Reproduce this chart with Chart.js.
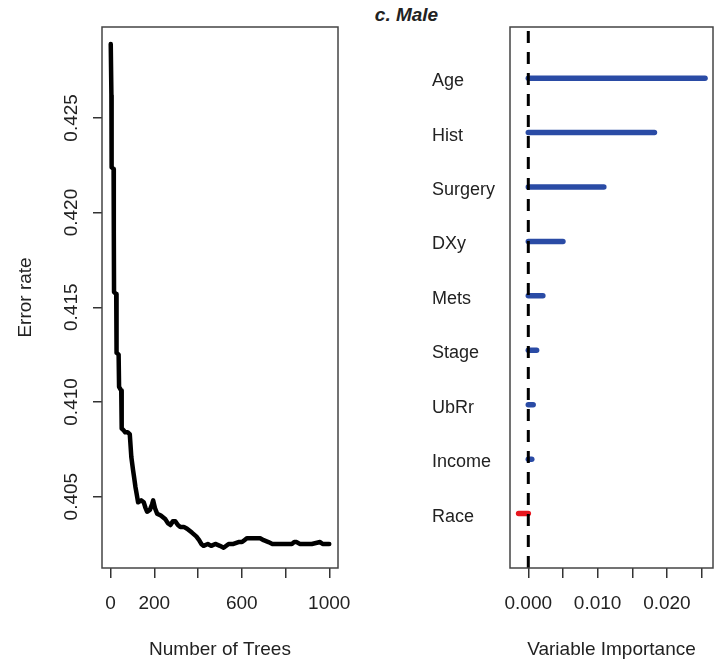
<!DOCTYPE html>
<html>
<head>
<meta charset="utf-8">
<script src="https://cdn.jsdelivr.net/npm/chart.js@4.4.1/dist/chart.umd.min.js"></script>
<style>
  body { margin: 0; background: #fff; width: 720px; height: 662px; position: relative; overflow: hidden; }
  #title { position: absolute; left: 300px; width: 213px; top: 4px; line-height: 22px; text-align: center;
           font: italic bold 19px "Liberation Sans", Arial, sans-serif; color: #222; }
  #errorWrap { position: absolute; left: 0; top: 0; width: 380px; height: 662px; }
  #impWrap { position: absolute; left: 420px; top: 0; width: 300px; height: 662px; }
</style>
</head>
<body>
<div id="title">c. Male</div>
<div id="errorWrap"><canvas id="errorChart" width="380" height="662"></canvas></div>
<div id="impWrap"><canvas id="impChart" width="300" height="662"></canvas></div>

<script>
// --- DATA ---
// OOB error rate
const treeCounts = [1, 4, 5, 14, 15, 16, 26, 27, 28, 37, 39, 49, 51, 60, 67, 78, 88, 95, 103, 108,
  114, 120, 126, 140, 152, 160, 167, 180, 190, 195, 203, 213, 230, 251, 262, 274, 285, 296, 308, 319,
  335, 350, 372, 392, 405, 415, 425, 445, 460, 479, 500, 517, 540, 562, 585, 601, 612, 623, 650, 684,
  700, 722, 740, 760, 800, 829, 840, 851, 865, 881, 920, 958, 970, 1000];
const errorRates = [0.4289, 0.4262, 0.4224, 0.4223, 0.4190, 0.4158, 0.4157, 0.4140, 0.4126, 0.4125,
  0.4108, 0.4106, 0.4086, 0.4085, 0.4084, 0.4084, 0.4083, 0.4071, 0.4064, 0.4060,
  0.4055, 0.4051, 0.4047, 0.4048, 0.4047, 0.4044, 0.4042, 0.4043, 0.4046, 0.4048,
  0.4044, 0.4041, 0.4040, 0.4038, 0.4036, 0.4035, 0.4037, 0.4037, 0.4035, 0.4034,
  0.4034, 0.4033, 0.4031, 0.4029, 0.4027, 0.4025, 0.4024, 0.4025, 0.4024, 0.4025,
  0.4024, 0.4023, 0.4025, 0.4025, 0.4026, 0.4026, 0.4027, 0.4028, 0.4028, 0.4028,
  0.4027, 0.4026, 0.4025, 0.4025, 0.4025, 0.4025, 0.4026, 0.4026, 0.4025, 0.4025,
  0.4025, 0.4026, 0.4025, 0.4025];
const treeTicks = [0, 200, 400, 600, 800, 1000];
const treeTickLabels = ['0', '200', '', '600', '', '1000'];
const errorTicks = [0.405, 0.410, 0.415, 0.420, 0.425];

// variable importance, top to bottom
const varNames = ['Age', 'Hist', 'Surgery', 'DXy', 'Mets', 'Stage', 'UbRr', 'Income', 'Race'];
const importance = [0.0255, 0.0182, 0.0109, 0.0050, 0.0021, 0.0012, 0.0007, 0.0005, -0.0014];
const impTicks = [0, 0.005, 0.010, 0.015, 0.020, 0.025];
const impTickLabels = ['0.000', '', '0.010', '', '0.020', ''];

// --- STYLE ---
const FONT = '"Liberation Sans", Arial, sans-serif';
const TEXT = '#222';
const BLUE = '#2a4ba5';
const RED = '#e8171f';

const boxPlugin = {
  id: 'box',
  afterDraw(chart) {
    const { ctx, chartArea: a } = chart;
    ctx.save();
    ctx.strokeStyle = '#444';
    ctx.lineWidth = 1.5;
    ctx.strokeRect(a.left, a.top, a.right - a.left, a.bottom - a.top);
    ctx.restore();
  }
};

const tickGrid = len => ({ display: true, drawOnChartArea: false, drawTicks: true, tickLength: len, color: '#333', lineWidth: 1.5 });
const noPad = s => { s.paddingLeft = s.paddingRight = s.paddingTop = s.paddingBottom = 0; };

// --- LEFT: error rate vs trees ---
new Chart(document.getElementById('errorChart'), {
  type: 'scatter',
  data: {
    datasets: [{
      data: treeCounts.map((t, i) => ({ x: t, y: errorRates[i] })),
      showLine: true, borderColor: '#000', borderWidth: 4.5, pointRadius: 0,
      borderJoinStyle: 'round', borderCapStyle: 'round', tension: 0
    }]
  },
  options: {
    responsive: false, animation: false,
    layout: { padding: { top: 27, right: 42, bottom: 0, left: 0 } },
    plugins: { legend: { display: false }, tooltip: { enabled: false } },
    scales: {
      x: {
        type: 'linear', min: -39, max: 1040,
        afterBuildTicks: s => { s.ticks = treeTicks.map(v => ({ value: v })); },
        afterFit: s => { s.height = 94; noPad(s); },
        grid: tickGrid(10), border: { display: false },
        ticks: { autoSkip: false, maxRotation: 0, padding: 14, color: TEXT, font: { family: FONT, size: 19 },
                 callback: (v, i) => treeTickLabels[i] },
        title: { display: true, text: 'Number of Trees', color: TEXT, font: { family: FONT, size: 19 }, padding: { top: 0, bottom: 1 } }
      },
      y: {
        type: 'linear', min: 0.40123, max: 0.4298,
        afterBuildTicks: s => { s.ticks = errorTicks.map(v => ({ value: v })); },
        afterFit: s => { s.width = 102; noPad(s); },
        grid: tickGrid(9), border: { display: false },
        ticks: { autoSkip: false, minRotation: 90, maxRotation: 90, crossAlign: 'center', padding: -3,
                 color: TEXT, font: { family: FONT, size: 19 }, callback: v => v.toFixed(3) },
        title: { display: true, text: 'Error rate', color: TEXT, font: { family: FONT, size: 19 }, padding: { top: 14, bottom: 0 } }
      }
    }
  },
  plugins: [boxPlugin]
});

// --- RIGHT: variable importance ---
const impYMin = 0, impYMax = 9.94;
const impDatasets = varNames.map((name, i) => ({
  label: name,
  data: [{ x: 0, y: varNames.length - i }, { x: importance[i], y: varNames.length - i }],
  showLine: true, borderColor: importance[i] < 0 ? RED : BLUE, borderWidth: 5.5,
  borderCapStyle: 'round', pointRadius: 0, order: 1
}));
impDatasets.push({
  label: 'zero',
  data: [{ x: 0, y: impYMin }, { x: 0, y: impYMax }],
  showLine: true, borderColor: '#000', borderWidth: 3, borderDash: [12, 9], pointRadius: 0, order: 0
});

new Chart(document.getElementById('impChart'), {
  type: 'scatter',
  data: { datasets: impDatasets },
  options: {
    responsive: false, animation: false,
    layout: { padding: { top: 27, right: 7, bottom: 0, left: 12 } },
    plugins: { legend: { display: false }, tooltip: { enabled: false } },
    scales: {
      x: {
        type: 'linear', min: -0.00264, max: 0.02665,
        afterBuildTicks: s => { s.ticks = impTicks.map(v => ({ value: v })); },
        afterFit: s => { s.height = 94; noPad(s); },
        grid: tickGrid(10), border: { display: false },
        ticks: { autoSkip: false, maxRotation: 0, padding: 14, color: TEXT, font: { family: FONT, size: 19 },
                 callback: (v, i) => impTickLabels[i] },
        title: { display: true, text: 'Variable Importance', color: TEXT, font: { family: FONT, size: 19 }, padding: { top: 0, bottom: 1 } }
      },
      y: {
        type: 'linear', min: impYMin, max: impYMax,
        afterBuildTicks: s => { s.ticks = varNames.map((n, i) => ({ value: varNames.length - i })); },
        afterFit: s => { s.width = 78; noPad(s); },
        grid: { display: false }, border: { display: false },
        ticks: { autoSkip: false, crossAlign: 'far', padding: 0, labelOffset: 3, color: TEXT, font: { family: FONT, size: 18 },
                 callback: v => varNames[varNames.length - v] }
      }
    }
  },
  plugins: [boxPlugin]
});
</script>
</body>
</html>
